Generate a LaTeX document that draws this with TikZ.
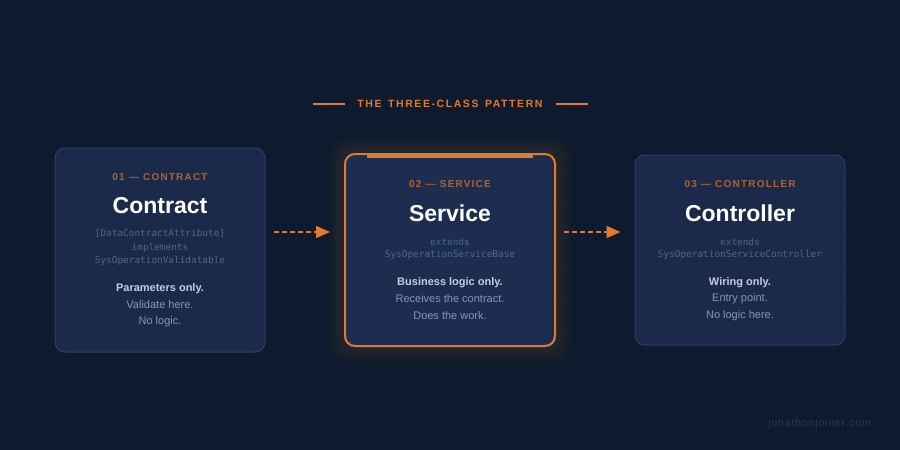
\documentclass[tikz,border=0pt]{standalone}
\usepackage{fontspec}
\setmainfont{Liberation Sans}
\newfontfamily\codefont{DejaVu Sans Mono}
\newfontfamily\spacedfont[LetterSpace=15]{Liberation Sans}
\newfontfamily\labfont[LetterSpace=12]{Liberation Sans}
\newfontfamily\footfont[LetterSpace=8]{Liberation Sans}
\newcommand\HdFont{\spacedfont\bfseries\fontsize{10.5}{12}\selectfont\spaceskip=6.5pt\relax}
\newcommand\LabFont{\labfont\bfseries\fontsize{10}{12}\selectfont\spaceskip=4.2pt\relax}
\usetikzlibrary{arrows.meta}
\definecolor{bg}{HTML}{0E1A2D}
\definecolor{dotc}{HTML}{18253B}
\definecolor{boxfill}{HTML}{1B2A4A}
\definecolor{boxfill2}{HTML}{1D2D50}
\definecolor{boxline}{HTML}{2C3F66}
\definecolor{accent}{HTML}{E07B2C}
\definecolor{accentdim}{HTML}{B0632C}
\definecolor{codec}{HTML}{506888}
\definecolor{strongc}{HTML}{C3CDE0}
\definecolor{softc}{HTML}{8796B3}
\definecolor{footc}{HTML}{2A3A57}
\tikzset{
  card/.style={draw=boxline, line width=1pt, fill=boxfill, rounded corners=10pt, minimum width=210pt, inner sep=0pt},
  cardhi/.style={draw=accent, line width=2pt, fill=boxfill2, rounded corners=10pt, minimum width=210pt, inner sep=0pt},
  lab/.style={font=\LabFont, text=accentdim, inner sep=0pt},
  ttl/.style={font=\bfseries\fontsize{23}{26}\selectfont, text=white, inner sep=0pt},
  code/.style={font=\codefont\fontsize{9.4}{11}\selectfont, text=codec, inner sep=0pt},
  strong/.style={font=\bfseries\fontsize{11}{13}\selectfont, text=strongc, inner sep=0pt},
  soft/.style={font=\fontsize{11}{13}\selectfont, text=softc, inner sep=0pt},
  arr/.style={draw=accent, line width=1.5pt, dash pattern=on 5pt off 3pt, -{Triangle[length=14pt,width=12pt]}},
}
\begin{document}
\begin{tikzpicture}[x=1pt,y=-1pt]
\fill[bg] (0,0) rectangle (900,450);
\useasboundingbox (0,0) rectangle (900,450);
\foreach \i in {0,...,27}{\foreach \j in {0,...,13}{\fill[dotc] (16+32*\i,15+32*\j) circle (0.8);}}
% glow
\foreach \k in {1,...,12}{\fill[accent, opacity=0.010, rounded corners=10pt+\k pt] (345-1.5*\k,154-1.5*\k) rectangle (555+1.5*\k,346+1.5*\k);}
% header
\node[font=\HdFont, text=accent, inner sep=0pt] (hd) at (450,104) {THE THREE-CLASS PATTERN};
\draw[accent, line width=1.5pt] ([xshift=-12pt]hd.west) -- ([xshift=-44pt]hd.west);
\draw[accent, line width=1.5pt] ([xshift=13pt]hd.east) -- ([xshift=45pt]hd.east);
% cards
\node[card, minimum height=204pt] (c1) at (160,250) {};
\node[cardhi, minimum height=192pt] (c2) at (450,250) {};
\node[card, minimum height=190pt] (c3) at (740,250) {};
\fill[accent] (367,154) rectangle (533,157.5);
% card 1
\node[lab] (l1) at (160,177) {01 — CONTRACT};
\node[ttl] (t1) at (160,206) {Contract};
\node[code] (m1a) at (160,234) {[DataContractAttribute]};
\node[code] (m1b) at (160,248) {implements};
\node[code] (m1c) at (160,261) {SysOperationValidatable};
\node[strong] (s1) at (160,289) {Parameters only.};
\node[soft] (p1a) at (160,305) {Validate here.};
\node[soft] (p1b) at (160,322) {No logic.};
% card 2
\node[lab] (l2) at (450,184) {02 — SERVICE};
\node[ttl] (t2) at (450,213) {Service};
\node[code] (m2a) at (450,242) {extends};
\node[code] (m2b) at (450,255) {SysOperationServiceBase};
\node[strong] (s2) at (450,283) {Business logic only.};
\node[soft] (p2a) at (450,299) {Receives the contract.};
\node[soft] (p2b) at (450,316) {Does the work.};
% card 3
\node[lab] (l3) at (740,184) {03 — CONTROLLER};
\node[ttl] (t3) at (740,213) {Controller};
\node[code] (m3a) at (740,242) {extends};
\node[code] (m3b) at (740,255) {SysOperationServiceController};
\node[strong] (s3) at (740,283) {Wiring only.};
\node[soft] (p3a) at (740,299) {Entry point.};
\node[soft] (p3b) at (740,316) {No logic here.};
% arrows
\draw[arr, shorten <=8pt, shorten >=14pt] ([yshift=18pt]c1.east) -- ([yshift=18pt]c2.west);
\draw[arr, shorten <=8pt, shorten >=14pt] ([yshift=18pt]c2.east) -- ([yshift=18pt]c3.west);
% footer
\node[anchor=east, font=\footfont\fontsize{10.5}{12}\selectfont, text=footc, inner sep=0pt] (ft) at (871,424) {jonathonjoiner.com};
\end{tikzpicture}
\end{document}
